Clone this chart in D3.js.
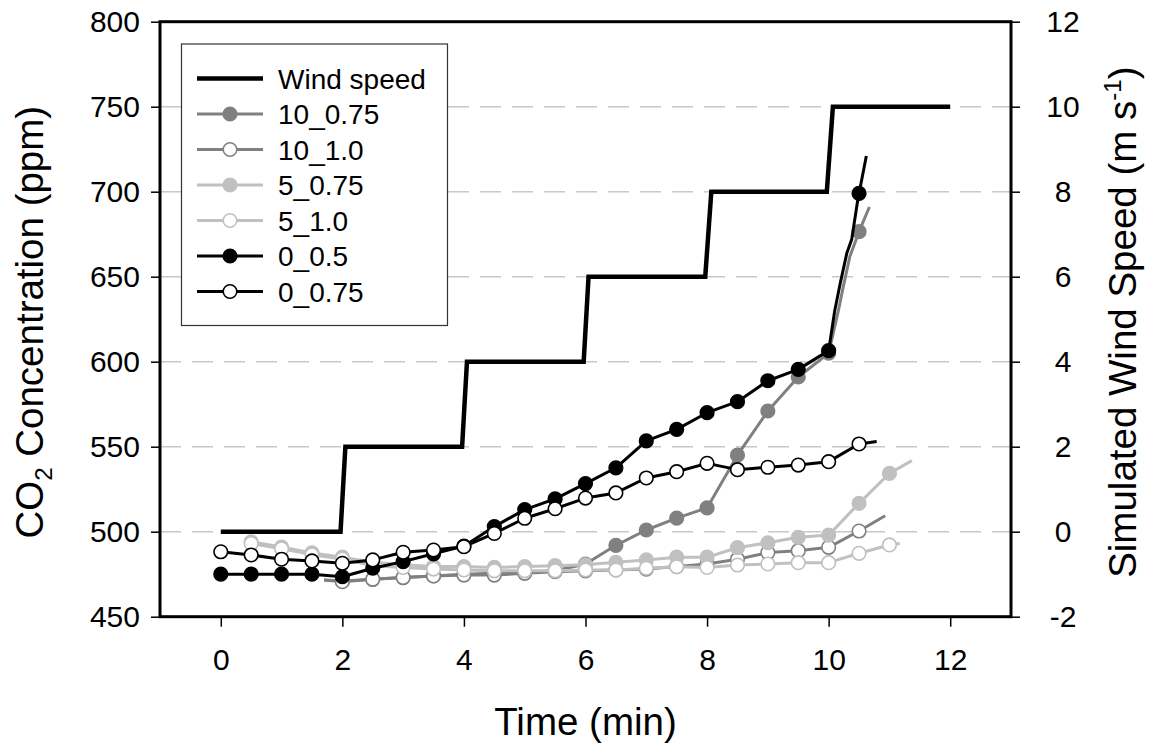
<!DOCTYPE html>
<html>
<head>
<meta charset="utf-8">
<script src="https://cdn.jsdelivr.net/npm/d3@7/dist/d3.min.js"></script>
<style>
  html, body { margin: 0; padding: 0; background: #fff; }
  svg { display: block; font-family: "Liberation Sans", Arial, sans-serif; }
</style>
</head>
<body>
<svg id="chart" width="1153" height="746"></svg>
<script>
// CO2 concentration (ppm) over time (min) for each treatment; markers every 0.5 min
const s10_075 = [[1.7,471.6],[2,471],[2.5,472],[3,473],[3.5,474],[4,475],[4.5,475.5],[5,476],[5.5,477],[6,481],[6.5,492],[7,501],[7.5,508],[8,514],[8.5,545],[9,571],[9.5,591],[10,605],[10.16,630],[10.24,644],[10.35,662],[10.5,676.5],[10.67,691]];
const s10_10 = [[1.7,471.6],[2,470.6],[2.5,472],[3,473],[3.5,474],[4,474.5],[4.5,474.5],[5,475.5],[5.5,476.5],[6,477],[6.5,477.5],[7,478],[7.5,479.5],[8,481],[8.5,483.8],[9,487.7],[9.5,488.8],[10,490.8],[10.5,500.4],[10.93,509.4]];
const s5_075 = [[0.5,494],[1,491],[1.5,487.5],[2,485],[2.5,482],[3,480.5],[3.5,479.5],[4,479.5],[4.5,479],[5,479.5],[5.5,480],[6,480.5],[6.5,482],[7,483.4],[7.5,485],[8,485],[8.5,490.6],[9,493.5],[9.5,496.7],[10,498],[10.5,516.7],[11,534.3],[11.37,541.8]];
const s5_10 = [[0.5,493],[1,490],[1.5,486.5],[2,484],[2.5,480],[3,479],[3.5,478],[4,477.5],[4.5,477],[5,477],[5.5,477],[6,477.5],[6.5,477.5],[7,478.5],[7.5,479.4],[8,479],[8.5,480.4],[9,481],[9.5,481.8],[10,481.8],[10.5,487.3],[11,492.2],[11.17,493]];
const s0_05 = [[0,475],[0.5,475],[1,475],[1.5,475],[2,473.5],[2.5,478.5],[3,482.4],[3.5,487],[4,491.5],[4.5,503],[5,513],[5.5,519.3],[6,528.3],[6.5,537.6],[7,553.4],[7.5,560.2],[8,570],[8.5,576.5],[9,588.8],[9.5,595.5],[10,606.5],[10.1,630],[10.19,646],[10.3,664],[10.38,672],[10.47,693],[10.5,699],[10.62,721]];
const s0_075 = [[0,488.2],[0.5,486.3],[1,483.8],[1.5,482.8],[2,481.4],[2.5,483.4],[3,487.9],[3.5,489.2],[4,491.2],[4.5,499],[5,507.9],[5.5,513.5],[6,519.8],[6.5,522.8],[7,531.6],[7.5,535.3],[8,540.2],[8.5,536.5],[9,537.9],[9.5,539.2],[10,541.2],[10.5,551.6],[10.79,553]];

// Simulated wind speed (m/s) step profile
const windSpeed = [[0,0],[1.97,0],[2.05,2],[3.97,2],[4.05,4],[5.97,4],[6.05,6],[7.97,6],[8.07,8],[9.97,8],[10.07,10],[12,10]];

const timeTicks = [0,2,4,6,8,10,12];
const co2Ticks = [450,500,550,600,650,700,750,800];
const windTicks = [-2,0,2,4,6,8,10,12];
const gridValues = [500,550,600,650,700,750];

const seriesNames = ["10_0.75","10_1.0","5_0.75","5_1.0","0_0.5","0_0.75"];
const seriesData = [s10_075, s10_10, s5_075, s5_10, s0_05, s0_075];
const seriesColor = ["#808080","#808080","#c0c0c0","#c0c0c0","#000000","#000000"];
const seriesFilled = [true,false,true,false,true,false];

const svg = d3.select("#chart");
const L = 160, R = 1011, T = 21.7, B = 616.7;

const x = d3.scaleLinear().domain([-1,13]).range([L,R]);
const y = d3.scaleLinear().domain([450,800]).range([B,T]);
const yW = d3.scaleLinear().domain([-2,12]).range([B,T]);

// dashed horizontal grid
svg.append("g").selectAll("line").data(gridValues).join("line")
  .attr("x1", L).attr("x2", R)
  .attr("y1", d => y(d)).attr("y2", d => y(d))
  .attr("stroke", "#c8c8c8").attr("stroke-width", 1.5)
  .attr("stroke-dasharray", "21,11");

// axes (plain hyphen for negative numbers)
const fontTick = 30;
const plain = d => String(d);
const axL = svg.append("g").attr("transform", `translate(${L},0)`)
  .call(d3.axisLeft(y).tickValues(co2Ticks).tickFormat(plain).tickSize(9).tickSizeOuter(0).tickPadding(11));
const axR = svg.append("g").attr("transform", `translate(${R},0)`)
  .call(d3.axisRight(yW).tickValues(windTicks).tickFormat(plain).tickSize(9).tickSizeOuter(0).tickPadding(11));
const axB = svg.append("g").attr("transform", `translate(0,${B})`)
  .call(d3.axisBottom(x).tickValues(timeTicks).tickFormat(plain).tickSize(10).tickSizeOuter(0).tickPadding(22));
[axL, axR, axB].forEach(g => {
  g.select(".domain").remove();
  g.selectAll(".tick line").attr("stroke", "#000").attr("stroke-width", 1.5);
  g.selectAll(".tick text").attr("font-size", fontTick).attr("fill", "#000")
    .attr("font-family", "'Liberation Sans', Arial, sans-serif");
});
axR.selectAll(".tick text").attr("text-anchor", "middle").attr("x", 52);

// series lines and markers
const line = d3.line().x(d => x(d[0])).y(d => y(d[1]));
const isMarker = d => Math.abs(d[0]*2 - Math.round(d[0]*2)) < 1e-6;

seriesData.forEach((data, i) => {
  const g = svg.append("g");
  g.append("path").datum(data).attr("d", line)
    .attr("fill", "none").attr("stroke", seriesColor[i]).attr("stroke-width", 3)
    .attr("stroke-linejoin", "round");
  g.selectAll("circle").data(data.filter(isMarker)).join("circle")
    .attr("cx", d => x(d[0])).attr("cy", d => y(d[1])).attr("r", 6.8)
    .attr("fill", seriesFilled[i] ? seriesColor[i] : "#fff")
    .attr("stroke", seriesColor[i]).attr("stroke-width", 1.6);
});

// wind speed on the right axis
svg.append("path").datum(windSpeed)
  .attr("d", d3.line().x(d => x(d[0])).y(d => yW(d[1])))
  .attr("fill", "none").attr("stroke", "#000").attr("stroke-width", 4.5)
  .attr("stroke-linejoin", "miter");

// plot frame
svg.append("rect").attr("x", L).attr("y", T).attr("width", R-L).attr("height", B-T)
  .attr("fill", "none").attr("stroke", "#000").attr("stroke-width", 3);

// legend
const lg = svg.append("g");
lg.append("rect").attr("x", 181.5).attr("y", 44).attr("width", 266).attr("height", 281.5)
  .attr("fill", "#fff").attr("stroke", "#333").attr("stroke-width", 1.2);
const legendItems = [{name:"Wind speed", color:"#000", wind:true}]
  .concat(seriesNames.map((n,i) => ({name:n, color:seriesColor[i], filled:seriesFilled[i]})));
legendItems.forEach((it, k) => {
  const yy = 78.5 + k*35.5;
  lg.append("line").attr("x1", 197).attr("x2", 263).attr("y1", yy).attr("y2", yy)
    .attr("stroke", it.color).attr("stroke-width", it.wind ? 4.5 : 3);
  if (!it.wind) {
    lg.append("circle").attr("cx", 230).attr("cy", yy).attr("r", 6.8)
      .attr("fill", it.filled ? it.color : "#fff").attr("stroke", it.color).attr("stroke-width", 1.6);
  }
  lg.append("text").attr("x", 278).attr("y", yy).attr("dy", "0.36em")
    .attr("font-size", 28).attr("fill", "#000").text(it.name);
});

// axis titles
svg.append("text").attr("x", (L+R)/2).attr("y", 735).attr("text-anchor", "middle")
  .attr("font-size", 38.5).text("Time (min)");

const tl = svg.append("text").attr("transform", `translate(43,${(T+B)/2 + 3}) rotate(-90)`)
  .attr("text-anchor", "middle").attr("font-size", 38.5);
tl.append("tspan").text("CO");
tl.append("tspan").attr("font-size", 24).attr("dy", 9).text("2");
tl.append("tspan").attr("dy", -9).text(" Concentration (ppm)");

const tr = svg.append("text").attr("transform", `translate(1136,${(T+B)/2 + 3}) rotate(-90)`)
  .attr("text-anchor", "middle").attr("font-size", 38.5);
tr.append("tspan").text("Simulated Wind Speed (m s");
tr.append("tspan").attr("font-size", 24).attr("dy", -15).text("-1");
tr.append("tspan").attr("dy", 15).text(")");
</script>
</body>
</html>
